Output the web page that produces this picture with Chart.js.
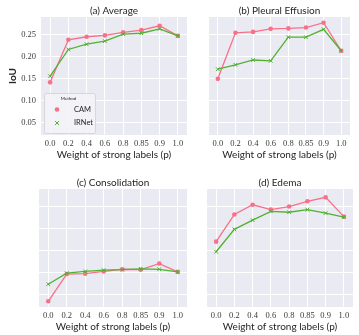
<!DOCTYPE html>
<html>
<head>
<meta charset="utf-8">
<script src="https://cdn.jsdelivr.net/npm/chart.js@4"></script>
<style>
  body { margin: 0; background: #fff; }
  #figura { position: relative; width: 359px; height: 335px; overflow: hidden; }
  #figura canvas { position: absolute; }
</style>
</head>
<body>
<div id="figura">
  <canvas id="g-a" width="192" height="161" style="left:0px;top:0px"></canvas>
  <canvas id="g-b" width="151" height="161" style="left:204px;top:0px"></canvas>
  <canvas id="g-c" width="158" height="161" style="left:34px;top:172px"></canvas>
  <canvas id="g-d" width="156" height="161" style="left:202px;top:172px"></canvas>
</div>
<script>
// pesos de las etiquetas fuertes (eje x)
const categorias = ['0.0', '0.2', '0.4', '0.6', '0.8', '0.85', '0.9', '1.0'];
const metodos = ['CAM', 'IRNet'];

// IoU
const camAverage = [0.142, 0.239, 0.246, 0.249, 0.256, 0.261, 0.271, 0.248];
const irnetAverage = [0.156, 0.217, 0.229, 0.236, 0.252, 0.254, 0.264, 0.248];

const camPleural = [0.150, 0.255, 0.257, 0.264, 0.265, 0.267, 0.278, 0.214];
const irnetPleural = [0.172, 0.182, 0.193, 0.191, 0.245, 0.245, 0.263, 0.214];

const camConsolidation = [0.035, 0.097, 0.098, 0.103, 0.108, 0.107, 0.121, 0.102];
const irnetConsolidation = [0.074, 0.099, 0.103, 0.106, 0.107, 0.109, 0.108, 0.102];

const camEdema = [0.171, 0.233, 0.255, 0.244, 0.251, 0.263, 0.272, 0.228];
const irnetEdema = [0.148, 0.199, 0.220, 0.240, 0.238, 0.244, 0.236, 0.227];

const yMin = 0.022;
const yMax = 0.291;

const colorCAM = '#f77189';
const colorIRNet = '#50b131';
const colorTexto = '#262626';
const fuenteTicks = "'Liberation Serif', 'DejaVu Serif', serif";

// fondo gris azulado estilo seaborn
const fondoPlugin = {
  id: 'fondo',
  beforeDraw(chart) {
    const a = chart.chartArea;
    const ctx = chart.ctx;
    ctx.save();
    ctx.fillStyle = '#EAEAF2';
    ctx.fillRect(a.left, a.top, a.right - a.left, a.bottom - a.top);
    ctx.restore();
  }
};

// leyenda dentro del primer panel
const leyendaPlugin = {
  id: 'leyenda',
  afterDraw(chart) {
    const ctx = chart.ctx;
    const a = chart.chartArea;
    const x0 = a.left + 3;
    const y0 = a.bottom - 42;
    ctx.save();
    ctx.beginPath();
    ctx.roundRect(x0 + 0.5, y0 + 0.5, 51, 40, 2);
    ctx.fillStyle = 'rgba(243,243,248,0.85)';
    ctx.fill();
    ctx.strokeStyle = 'rgba(205,205,210,0.9)';
    ctx.lineWidth = 0.8;
    ctx.stroke();

    ctx.fillStyle = colorTexto;
    ctx.textBaseline = 'middle';
    ctx.textAlign = 'center';
    ctx.font = '4.5px Lato';
    ctx.fillText('Method', x0 + 24.5, y0 + 6);

    chart.data.datasets.forEach((ds, i) => {
      const y = y0 + 16.5 + i * 13.5;
      const x = x0 + 13;
      ctx.fillStyle = ds.borderColor;
      ctx.strokeStyle = ds.borderColor;
      if (ds.pointStyle === 'circle') {
        ctx.beginPath();
        ctx.arc(x, y, ds.pointRadius, 0, Math.PI * 2);
        ctx.fill();
      } else {
        const r = ds.pointRadius * 0.75;
        ctx.lineWidth = ds.pointBorderWidth;
        ctx.beginPath();
        ctx.moveTo(x - r, y - r); ctx.lineTo(x + r, y + r);
        ctx.moveTo(x - r, y + r); ctx.lineTo(x + r, y - r);
        ctx.stroke();
      }
      ctx.fillStyle = colorTexto;
      ctx.textAlign = 'left';
      ctx.font = '7.5px Lato';
      ctx.fillText(ds.label, x0 + 30, y);
    });
    ctx.restore();
  }
};

function crearPanel(id, titulo, cam, irnet, conEjeY, conLeyenda) {
  const plugins = [fondoPlugin];
  if (conLeyenda) plugins.push(leyendaPlugin);

  new Chart(document.getElementById(id), {
    type: 'line',
    data: {
      labels: categorias,
      datasets: [
        {
          label: metodos[0], data: cam,
          borderColor: colorCAM, backgroundColor: colorCAM,
          borderWidth: 1.3, pointStyle: 'circle', pointRadius: 2.3, pointBorderWidth: 0,
          order: 1
        },
        {
          label: metodos[1], data: irnet,
          borderColor: colorIRNet, backgroundColor: colorIRNet,
          borderWidth: 1.3, pointStyle: 'crossRot', pointRadius: 2.6, pointBorderWidth: 1,
          order: 0
        }
      ]
    },
    options: {
      responsive: false,
      animation: false,
      events: [],
      layout: { padding: 0 },
      plugins: {
        legend: { display: false },
        tooltip: { enabled: false },
        title: {
          display: true, text: titulo, fullSize: false, color: colorTexto,
          font: { family: 'Lato', size: 10, weight: 'normal' },
          padding: { top: 5, bottom: 0 }
        }
      },
      scales: {
        x: {
          type: 'category',
          offset: true,
          grid: { color: '#ffffff', lineWidth: 1, drawTicks: false, offset: false },
          border: { display: false },
          ticks: {
            color: '#3a3a3a', font: { family: fuenteTicks, size: 8.5 },
            padding: 4, autoSkip: false, maxRotation: 0
          },
          title: {
            display: true, text: 'Weight of strong labels (p)', color: colorTexto,
            font: { family: 'Lato', size: 10 }, padding: 0
          },
          afterFit: s => { s.height = 26; }
        },
        y: {
          min: yMin, max: yMax,
          grid: { color: '#ffffff', lineWidth: 1, drawTicks: false },
          border: { display: false },
          ticks: {
            display: conEjeY, stepSize: 0.05, includeBounds: false,
            color: '#3a3a3a', font: { family: fuenteTicks, size: 8.5 }, padding: 5,
            callback: v => v.toFixed(2)
          },
          title: {
            display: conEjeY, text: 'IoU', color: colorTexto,
            font: { family: 'Lato', size: 10, weight: 'bold' }, padding: { top: 6.5, bottom: 0 }
          },
          afterFit: s => { s.width = conEjeY ? 41 : 0; }
        }
      }
    },
    plugins: plugins
  });
}

crearPanel('g-a', '(a) Average', camAverage, irnetAverage, true, true);
crearPanel('g-b', '(b) Pleural Effusion', camPleural, irnetPleural, false, false);
crearPanel('g-c', '(c) Consolidation', camConsolidation, irnetConsolidation, false, false);
crearPanel('g-d', '(d) Edema', camEdema, irnetEdema, false, false);
</script>
</body>
</html>
